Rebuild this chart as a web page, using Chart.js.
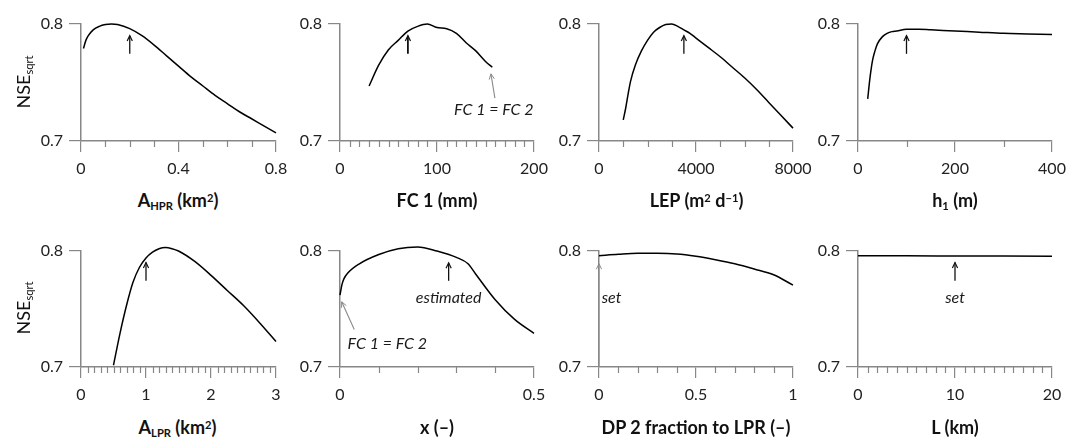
<!DOCTYPE html>
<html><head><meta charset="utf-8">
<script src="https://cdn.jsdelivr.net/npm/chart.js@4/dist/chart.umd.min.js"></script>
<style>
body{margin:0;width:1069px;height:438px;background:#fff;position:relative;overflow:hidden;font-family:Lato,sans-serif}
canvas.pc{position:absolute}
.xt{position:absolute;font-weight:bold;font-size:18px;color:#111;white-space:nowrap;transform:translateX(-50%);line-height:20px}
.yt{position:absolute;font-size:18px;color:#111;white-space:nowrap;transform:translate(-50%,-50%) rotate(-90deg);line-height:20px}
sub,sup{font-size:0.62em;line-height:0;position:relative;vertical-align:baseline}
sub{top:0.3em} sup{top:-0.45em}
</style></head><body>
<script>
// ---------- data ----------
const yTicks = [0.7, 0.8];

const aHprX = [0.01,0.02,0.03,0.05,0.075,0.1,0.125,0.15,0.2,0.25,0.3,0.35,0.4,0.45,0.5,0.55,0.6,0.65,0.7,0.75,0.8];
const aHprY = [0.779,0.786,0.790,0.795,0.798,0.7995,0.800,0.7995,0.796,0.790,0.782,0.773,0.764,0.755,0.747,0.739,0.732,0.725,0.719,0.713,0.707];
const aHprTicks = [0, 0.4, 0.8];

const fc1X = [30,40,50,60,70,80,90,100,110,120,130,140,150,157];
const fc1Y = [0.747,0.765,0.778,0.786,0.794,0.798,0.800,0.797,0.796,0.792,0.784,0.777,0.768,0.763];
const fc1Ticks = [0, 100, 200];

const lepX = [1000,1100,1200,1300,1500,1750,2000,2250,2500,2750,3000,3250,3500,3750,4000,4500,5000,5500,6000,6500,7000,7500,8000];
const lepY = [0.718,0.728,0.740,0.751,0.765,0.777,0.786,0.793,0.797,0.7995,0.800,0.798,0.795,0.792,0.788,0.780,0.772,0.763,0.754,0.744,0.733,0.722,0.711];
const lepTicks = [0, 4000, 8000];

const h1X = [20,25,30,35,40,50,60,70,80,100,125,150,200,250,300,350,400];
const h1Y = [0.736,0.755,0.769,0.777,0.783,0.789,0.792,0.7935,0.794,0.7955,0.7955,0.795,0.794,0.793,0.792,0.7915,0.791];
const h1Ticks = [0, 200, 400];

const aLprX = [0.5,0.6,0.7,0.8,0.9,1.0,1.1,1.2,1.3,1.4,1.5,1.75,2.0,2.25,2.5,2.75,3.0];
const aLprY = [0.7015,0.729,0.753,0.773,0.786,0.794,0.799,0.802,0.803,0.802,0.800,0.791,0.779,0.766,0.753,0.738,0.722];
const aLprTicks = [0, 1, 2, 3];

const xFracX = [0,0.005,0.01,0.02,0.05,0.1,0.15,0.2,0.25,0.3,0.33,0.35,0.4,0.45,0.5];
const xFracY = [0.762,0.771,0.776,0.781,0.789,0.797,0.802,0.8035,0.800,0.7945,0.789,0.780,0.758,0.741,0.729];
const xFracTicks = [0, 0.5];

const dp2X = [0,0.1,0.2,0.3,0.4,0.5,0.6,0.7,0.8,0.9,1.0];
const dp2Y = [0.796,0.7972,0.798,0.798,0.7975,0.7955,0.7925,0.789,0.7845,0.7795,0.7706];
const dp2Ticks = [0, 0.5, 1];

const lenX = [0,5,10,15,20];
const lenY = [0.796,0.7958,0.7957,0.7956,0.7955];
const lenTicks = [0, 10, 20];

// annotations: [xTail, yTail, xHead, yHead, style]  texts: [x, y, text, align]
const aHprArrows = [[0.2,0.7745,0.2,0.790,'k']];
const fc1Arrows  = [[70,0.7745,70,0.790,'kb'],[159.7,0.7366,155.6,0.7574,'g']];
const fc1Texts   = [[158.6,0.727,'FC 1 = FC 2','center']];
const lepArrows  = [[3500,0.7745,3500,0.790,'k']];
const h1Arrows   = [[100,0.7745,100,0.790,'k']];
const aLprArrows = [[1,0.7743,1,0.790,'k']];
const xFracArrows= [[0.28,0.7743,0.28,0.7898,'k'],[0.0368,0.7323,0.0044,0.7562,'g']];
const xFracTexts = [[0.28,0.760,'estimated','center'],[0.122,0.7196,'FC 1 = FC 2','center']];
const dp2Arrows  = [[0,0.7,0,0.789,'g']];
const dp2Texts   = [[0.014,0.760,'set','left']];
const lenArrows  = [[10,0.7743,10,0.790,'k']];
const lenTexts   = [[10,0.760,'set','center']];

// ---------- layout ----------
const AX = '#878787';
const rowsTB = [[24,141],[251,367]];
const colsLR = [[81,276],[340,534],[599,793],[858,1052]];

const panels = [
  {r:0,c:0,xs:aHprX,ys:aHprY,min:0,max:0.8,ticks:aHprTicks,minor:0.1,arrows:aHprArrows,texts:[],title:'A<sub>HPR</sub> (km<sup>2</sup>)',tx:178,tension:0.4},
  {r:0,c:1,xs:fc1X,ys:fc1Y,min:0,max:200,ticks:fc1Ticks,minor:10,arrows:fc1Arrows,texts:fc1Texts,title:'FC 1 (mm)',tx:437,tension:0.15},
  {r:0,c:2,xs:lepX,ys:lepY,min:0,max:8000,ticks:lepTicks,minor:1000,arrows:lepArrows,texts:[],title:'LEP (m<sup>2</sup> d<sup>\u22121</sup>)',tx:696.5,tension:0.4},
  {r:0,c:3,xs:h1X,ys:h1Y,min:0,max:400,ticks:h1Ticks,minor:100,arrows:h1Arrows,texts:[],title:'h<sub>1</sub> (m)',tx:955,tension:0.4},
  {r:1,c:0,xs:aLprX,ys:aLprY,min:0,max:3,ticks:aLprTicks,minor:0.1,arrows:aLprArrows,texts:[],title:'A<sub>LPR</sub> (km<sup>2</sup>)',tx:177.5,tension:0.4},
  {r:1,c:1,xs:xFracX,ys:xFracY,min:0,max:0.5,ticks:xFracTicks,minor:0.1,arrows:xFracArrows,texts:xFracTexts,title:'x (\u2013)',tx:437,tension:0.4},
  {r:1,c:2,xs:dp2X,ys:dp2Y,min:0,max:1,ticks:dp2Ticks,minor:0.1,arrows:dp2Arrows,texts:dp2Texts,title:'DP 2 fraction to LPR (\u2013)',tx:696,tension:0.4},
  {r:1,c:3,xs:lenX,ys:lenY,min:0,max:20,ticks:lenTicks,minor:1,arrows:lenArrows,texts:lenTexts,title:'L (km)',tx:955,tension:0.4}
];

function drawArrow(ctx,x0,y0,x1,y1,style){
  ctx.save();
  ctx.strokeStyle = style==='g' ? '#8a8a8a' : '#111';
  ctx.lineWidth = style==='g' ? 1.1 : (style==='kb' ? 1.8 : 1.3);
  ctx.beginPath(); ctx.moveTo(x0,y0); ctx.lineTo(x1,y1); ctx.stroke();
  const a = Math.atan2(y1-y0,x1-x0), L = 6, s = 0.45;
  ctx.lineWidth = style==='g' ? 1.0 : 1.2;
  ctx.beginPath();
  ctx.moveTo(x1-L*Math.cos(a-s), y1-L*Math.sin(a-s));
  ctx.lineTo(x1,y1);
  ctx.lineTo(x1-L*Math.cos(a+s), y1-L*Math.sin(a+s));
  ctx.stroke();
  ctx.restore();
}

const annotPlugin = {
  id:'annot',
  afterDraw(chart, args, opts){
    const ctx = chart.ctx, xs = chart.scales.x, ys = chart.scales.y;
    ctx.save();
    ctx.strokeStyle = AX; ctx.lineWidth = 1.2;
    const n = Math.round((xs.max - xs.min)/opts.minor);
    for(let i=0;i<=n;i++){
      const v = xs.min + i*opts.minor;
      if (opts.major.some(m => Math.abs(m-v) < 1e-9)) continue;
      const px = Math.round(xs.getPixelForValue(v)) + 0.5;
      ctx.beginPath(); ctx.moveTo(px, ys.bottom); ctx.lineTo(px, ys.bottom+6); ctx.stroke();
    }
    ctx.restore();
    for(const a of opts.arrows){
      drawArrow(ctx, xs.getPixelForValue(a[0]), ys.getPixelForValue(a[1]), xs.getPixelForValue(a[2]), ys.getPixelForValue(a[3]), a[4]);
    }
    ctx.save();
    ctx.font = 'italic 16px Lato'; ctx.fillStyle = '#1a1a1a'; ctx.textBaseline = 'middle';
    for(const t of opts.texts){
      ctx.textAlign = t[3];
      ctx.fillText(t[2], xs.getPixelForValue(t[0]), ys.getPixelForValue(t[1]));
    }
    ctx.restore();
  }
};

const PADR = 30, XAH = 40;
panels.forEach(p => {
  const [T,B] = rowsTB[p.r], [L,R] = colsLR[p.c];
  const cv = document.createElement('canvas');
  cv.className = 'pc';
  const w = 81 + (R-L) + PADR, h = 24 + (B-T) + XAH;
  cv.width = w; cv.height = h;
  cv.style.left = (L-81)+'px'; cv.style.top = (T-24)+'px';
  cv.style.width = w+'px'; cv.style.height = h+'px';
  document.body.appendChild(cv);
  new Chart(cv.getContext('2d'), {
    type:'line',
    data:{datasets:[{
      data: p.xs.map((x,i)=>({x:x, y:p.ys[i]})),
      borderColor:'#000', borderWidth:1.5, pointRadius:0, fill:false,
      tension:p.tension, cubicInterpolationMode:'monotone', clip:false
    }]},
    options:{
      responsive:false, animation:false, events:[],
      layout:{padding:{left:0, top:24, right:PADR, bottom:0}},
      plugins:{legend:{display:false}, tooltip:{enabled:false},
        annot:{minor:p.minor, major:p.ticks, arrows:p.arrows, texts:p.texts}},
      scales:{
        x:{type:'linear', min:p.min, max:p.max,
          afterBuildTicks:s=>{ s.ticks = p.ticks.map(v=>({value:v})); },
          afterFit:s=>{ s.height = XAH; },
          grid:{display:true, drawOnChartArea:false, drawTicks:true, tickLength:11, color:AX, lineWidth:1.2},
          border:{display:true, color:AX, width:1.5},
          ticks:{padding:7, font:{family:'Lato', size:16}, color:'#222', maxRotation:0, autoSkip:false,
            callback:(v)=>String(v)}
        },
        y:{type:'linear', min:0.7, max:0.8,
          afterBuildTicks:s=>{ s.ticks = yTicks.map(v=>({value:v})); },
          afterFit:s=>{ s.width = 81; },
          grid:{display:true, drawOnChartArea:false, drawTicks:true, tickLength:12, color:AX, lineWidth:1.2},
          border:{display:true, color:AX, width:1.5},
          ticks:{padding:6, font:{family:'Lato', size:16}, color:'#222',
            callback:(v)=>Number(v).toFixed(1)}
        }
      }
    },
    plugins:[annotPlugin]
  });
  const t = document.createElement('div');
  t.className = 'xt';
  t.innerHTML = p.title;
  t.style.left = p.tx+'px';
  t.style.top = (p.r===0 ? 190 : 417)+'px';
  document.body.appendChild(t);
});

[82, 308].forEach(cy => {
  const d = document.createElement('div');
  d.className = 'yt';
  d.innerHTML = 'NSE<sub>sqrt</sub>';
  d.style.left = '23px'; d.style.top = cy+'px';
  document.body.appendChild(d);
});
</script>
</body></html>
